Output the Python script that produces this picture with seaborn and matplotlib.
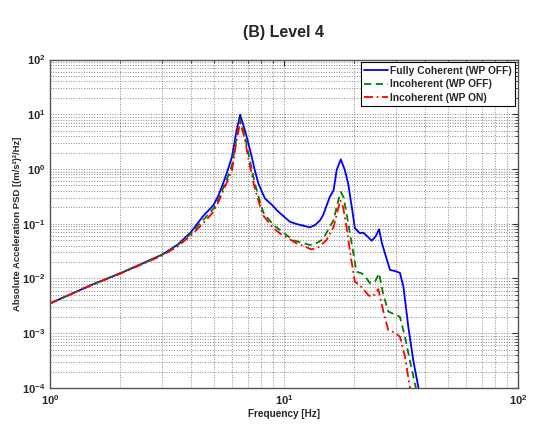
import numpy as np
import pandas as pd
import matplotlib
matplotlib.use("Agg")
import matplotlib.pyplot as plt
import seaborn as sns
from matplotlib.ticker import LogLocator, FixedLocator, FixedFormatter, NullFormatter

# -------- Data --------
freq_coh = [1, 1.5, 2, 2.5, 3, 3.5, 4, 4.5, 5, 5.25, 5.5, 5.75, 6, 6.28, 6.5, 6.8, 7.0,
            7.28, 7.5, 7.77, 8, 8.29, 9, 9.3, 10, 10.6, 11.3, 12.0, 12.9, 13.6, 14.3,
            14.7, 15.7, 16.3, 16.8, 17.5, 18.2, 18.8, 19.5, 20.1, 21.1, 21.8, 22.8,
            23.7, 24.6, 25.5, 26.2, 27.0, 28.4, 29.8, 31.3, 32.4, 34.0, 35.7, 37.5, 38.5]
psd_coh = [3.5e-3, 7.6e-3, 0.0125, 0.019, 0.027, 0.041, 0.07, 0.136, 0.22, 0.33, 0.55,
           0.95, 1.68, 5.2, 9.8, 5.2, 3.3, 1.68, 0.96, 0.55, 0.41, 0.29, 0.21, 0.178,
           0.135, 0.109, 0.099, 0.093, 0.086, 0.095, 0.117, 0.144, 0.31, 0.41, 0.96,
           1.5, 0.96, 0.55, 0.2, 0.083, 0.067, 0.069, 0.058, 0.049, 0.058, 0.079, 0.045,
           0.029, 0.0143, 0.0137, 0.0127, 0.0071, 1.31e-3, 3.2e-4, 1.05e-4, 6e-5]

freq_inc_off = [1, 1.5, 2, 2.5, 3, 3.5, 4, 4.5, 5, 5.25, 5.5, 5.75, 6, 6.28, 6.5, 6.8,
                7.0, 7.5, 8, 8.17, 9, 9.6, 10.96, 11.7, 12.9, 13.6, 14.7, 15.5, 16.3,
                17.0, 17.5, 18.0, 18.5, 19.0, 19.7, 20.4, 21.5, 22.4, 23.3, 24.5, 25.5,
                26.5, 27.9, 29.8, 31.3, 32.9, 34.5, 36.3, 37.5]
psd_inc_off = [3.5e-3, 7.6e-3, 0.0125, 0.019, 0.027, 0.040, 0.066, 0.115, 0.19, 0.28,
               0.45, 0.72, 1.18, 4.0, 8.0, 4.2, 2.2, 0.55, 0.21, 0.16, 0.095, 0.077,
               0.05, 0.046, 0.041, 0.043, 0.052, 0.08, 0.117, 0.25, 0.38, 0.3, 0.155,
               0.08, 0.033, 0.0133, 0.0124, 0.0105, 0.0082, 0.0087, 0.0124, 0.0054,
               0.0025, 0.0022, 0.002, 8.6e-4, 3.2e-4, 1.2e-4, 6e-5]

freq_inc_on = [1, 1.5, 2, 2.5, 3, 3.5, 4, 4.5, 5, 5.25, 5.5, 5.75, 6, 6.28, 6.5, 6.8,
               7.0, 7.5, 8, 8.17, 9, 9.6, 11.3, 12.0, 13.1, 14.0, 15.2, 16.3, 17.0, 17.4,
               17.9, 18.5, 19.4, 20.1, 21.1, 22.0, 22.9, 23.7, 24.5, 25.3, 26.5, 27.9,
               29.8, 31.3, 32.9, 34.5, 35.5]
psd_inc_on = [3.5e-3, 7.5e-3, 0.0123, 0.0185, 0.026, 0.038, 0.061, 0.10, 0.166, 0.25,
              0.4, 0.62, 0.96, 3.5, 7.0, 3.6, 1.8, 0.44, 0.178, 0.14, 0.083, 0.067,
              0.044, 0.040, 0.034, 0.037, 0.050, 0.088, 0.18, 0.27, 0.2, 0.088, 0.0218,
              0.0087, 0.0076, 0.0062, 0.005, 0.0046, 0.0052, 0.0064, 0.00266, 0.00115,
              0.00102, 8.6e-4, 3.7e-4, 1.05e-4, 5e-5]

labels = ["Fully Coherent (WP OFF)", "Incoherent (WP OFF)", "Incoherent (WP ON)"]
y_decades = [-4, -3, -2, -1, 0, 1, 2]
x_decades = [0, 1, 2]

# -------- Style --------
sns.set_style("white")
plt.rcParams["font.family"] = ["Liberation Sans", "DejaVu Sans"]
plt.rcParams["mathtext.fontset"] = "custom"
plt.rcParams["mathtext.rm"] = "Liberation Sans:bold"
plt.rcParams["mathtext.bf"] = "Liberation Sans:bold"

fig = plt.figure(figsize=(5.51, 4.30), dpi=100)
ax = fig.add_axes([0.0907, 0.0977, 0.8493, 0.7639])

# -------- Lines --------
sns.lineplot(x=freq_coh, y=psd_coh, ax=ax, color="#0000ff", linewidth=1.3,
             sort=False, estimator=None, label=labels[0])
sns.lineplot(x=freq_inc_off, y=psd_inc_off, ax=ax, color="#008000", linewidth=1.3,
             sort=False, estimator=None, label=labels[1], linestyle=(0, (4, 2.5)))
sns.lineplot(x=freq_inc_on, y=psd_inc_on, ax=ax, color="#ff0000", linewidth=1.3,
             sort=False, estimator=None, label=labels[2], linestyle=(0, (5, 2, 1, 2)))

ax.set_xscale("log")
ax.set_yscale("log")
ax.set_xlim(1, 100)
ax.set_ylim(1e-4, 1e2)

# ticks
ax.xaxis.set_major_locator(FixedLocator([10.0 ** d for d in x_decades]))
ax.xaxis.set_major_formatter(FixedFormatter([r"$\mathbf{10^{%d}}$" % d for d in x_decades]))
ax.yaxis.set_major_locator(FixedLocator([10.0 ** d for d in y_decades]))
ax.yaxis.set_major_formatter(FixedFormatter([r"$\mathbf{10^{%d}}$" % d for d in y_decades]))
ax.xaxis.set_minor_locator(LogLocator(base=10, subs=np.arange(2, 10), numticks=20))
ax.yaxis.set_minor_locator(LogLocator(base=10, subs=np.arange(2, 10), numticks=20))
ax.xaxis.set_minor_formatter(NullFormatter())
ax.yaxis.set_minor_formatter(NullFormatter())
ax.tick_params(which="both", direction="in", top=True, right=True, labelsize=8,
               color="#333333")
ax.tick_params(which="major", length=4)
ax.tick_params(which="minor", length=2)

ax.grid(True, which="both", linestyle=":", color="#888888", linewidth=0.7)
for spine in ax.spines.values():
    spine.set_color("#555555")
    spine.set_linewidth(1.0)

ax.set_title("(B) Level 4", fontsize=11.5, fontweight="bold", pad=16)
ax.set_xlabel("Frequency [Hz]", fontsize=7.2, fontweight="bold", labelpad=2)
ax.set_ylabel("Absolute Acceleration PSD [(m/s\u00b2)\u00b2/Hz]", fontsize=6.8,
              fontweight="bold", labelpad=0)

leg = ax.legend(loc="upper right", frameon=True, fancybox=False,
                handlelength=2.3, borderaxespad=0.25, borderpad=0.35, labelspacing=0.35,
                handletextpad=0.2, prop={"weight": "bold", "size": 7.4})
leg.get_frame().set_edgecolor("black")
leg.get_frame().set_linewidth(0.8)
leg.get_frame().set_alpha(1)

fig.savefig("out.png", dpi=100)
